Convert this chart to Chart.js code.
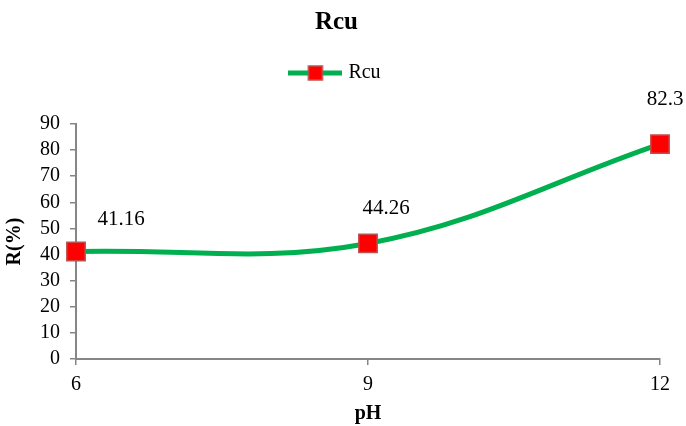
<!DOCTYPE html>
<html>
<head>
<meta charset="utf-8">
<script src="https://cdn.jsdelivr.net/npm/chart.js@4"></script>
<style>
  html, body { margin: 0; padding: 0; background: #fff; }
  #wrap { width: 686px; height: 426px; }
</style>
</head>
<body>
<div id="wrap"><canvas id="chart" width="686" height="426"></canvas></div>
<script>
const phLabels = ['6', '9', '12'];
const rcuValues = [41.16, 44.26, 82.3];
const yTicks = [0, 10, 20, 30, 40, 50, 60, 70, 80, 90];

const serif = '"Liberation Serif", "Times New Roman", serif';

// legend marker: green line with red square
const legendIcon = document.createElement('canvas');
legendIcon.width = 54; legendIcon.height = 18;
(function () {
  const c = legendIcon.getContext('2d');
  c.strokeStyle = '#00b050'; c.lineWidth = 5;
  c.beginPath(); c.moveTo(0, 9); c.lineTo(54, 9); c.stroke();
  c.fillStyle = '#ff0000'; c.fillRect(20, 2, 14, 14);
  c.strokeStyle = '#c0504d'; c.lineWidth = 1.5; c.strokeRect(20, 2, 14, 14);
})();

// value labels drawn next to the points
const valueLabels = {
  id: 'valueLabels',
  afterDatasetsDraw(chart) {
    const ctx = chart.ctx;
    const meta = chart.getDatasetMeta(0);
    const shift = [[45, -32], [18, -35], [5, -45]];
    ctx.save();
    ctx.font = '21px ' + serif;
    ctx.fillStyle = '#000';
    ctx.textAlign = 'center';
    ctx.textBaseline = 'middle';
    meta.data.forEach((pt, i) => {
      const v = chart.data.datasets[0].data[i];
      ctx.fillText(String(v), pt.x + shift[i][0], pt.y + shift[i][1]);
    });
    ctx.restore();
  }
};

new Chart(document.getElementById('chart').getContext('2d'), {
  type: 'line',
  data: {
    labels: phLabels,
    datasets: [{
      label: 'Rcu',
      data: rcuValues,
      borderColor: '#00b050',
      borderWidth: 5,
      tension: 0.38,
      pointStyle: 'rect',
      pointRadius: 13,
      pointHoverRadius: 13,
      pointBackgroundColor: '#ff0000',
      pointBorderColor: '#c0504d',
      pointBorderWidth: 1.5,
      fill: false
    }]
  },
  options: {
    responsive: false,
    animation: false,
    layout: { padding: { left: 0, right: 13, top: 0, bottom: 0 } },
    plugins: {
      title: {
        display: true,
        text: 'Rcu',
        color: '#000',
        font: { family: serif, size: 25, weight: 'bold' },
        padding: { top: 8, bottom: 15 }
      },
      // empty subtitle used as a gap between legend and plot
      subtitle: {
        display: true,
        text: '',
        position: 'top',
        weight: 500,
        font: { size: 10, lineHeight: 1 },
        padding: { top: 21, bottom: 0 }
      },
      legend: {
        display: true,
        labels: {
          color: '#000',
          font: { family: serif, size: 20 },
          usePointStyle: true,
          pointStyleWidth: 46,
          padding: 10,
          generateLabels(chart) {
            return [{
              text: 'Rcu',
              pointStyle: legendIcon,
              fillStyle: '#ff0000',
              strokeStyle: '#00b050',
              lineWidth: 0,
              datasetIndex: 0
            }];
          }
        }
      },
      tooltip: { enabled: false }
    },
    scales: {
      x: {
        offset: false,
        afterFit(s) { s.height = 67; },
        grid: { display: true, drawOnChartArea: false, drawTicks: true, tickLength: 6, color: '#868686', lineWidth: 1.5 },
        border: { display: true, color: '#868686', width: 2 },
        ticks: { color: '#000', font: { family: serif, size: 20 }, padding: 8, maxRotation: 0 },
        title: { display: true, text: 'pH', color: '#000', font: { family: serif, size: 20, weight: 'bold' }, padding: { top: 0, bottom: 0 } }
      },
      y: {
        min: 0,
        max: 90,
        afterFit(s) { s.width = 76; },
        afterBuildTicks(s) { s.ticks = yTicks.map(v => ({ value: v })); },
        grid: { display: true, drawOnChartArea: false, drawTicks: true, tickLength: 6, color: '#868686', lineWidth: 1.5 },
        border: { display: true, color: '#868686', width: 2 },
        ticks: { color: '#000', font: { family: serif, size: 20 }, padding: 10, autoSkip: false },
        title: { display: true, text: 'R(%)', color: '#000', font: { family: serif, size: 20, weight: 'bold' }, padding: { top: 3, bottom: 0 } }
      },
      // blank right-hand strip so the plot ends where the reference's does
      yRight: {
        position: 'right',
        display: true,
        afterFit(s) { s.width = 13; },
        grid: { display: false },
        border: { display: false },
        ticks: { display: false }
      }
    }
  },
  plugins: [valueLabels]
});
</script>
</body>
</html>
